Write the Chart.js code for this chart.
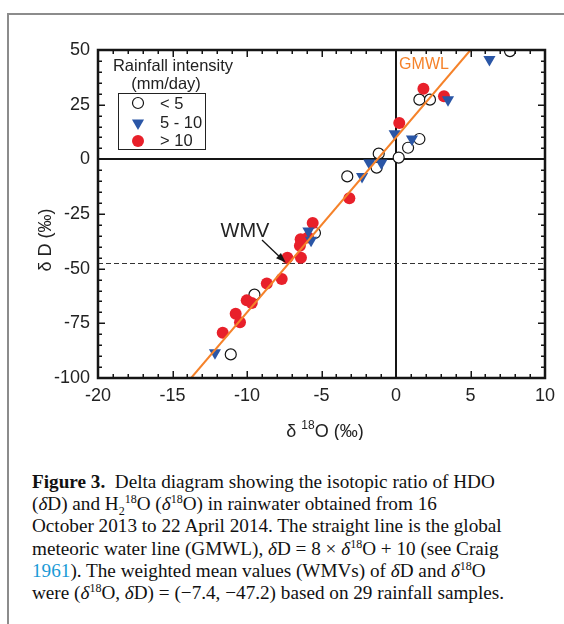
<!DOCTYPE html>
<html>
<head>
<meta charset="utf-8">
<script src="https://cdn.jsdelivr.net/npm/chart.js@4.4.0/dist/chart.umd.min.js"></script>
<style>
  html, body { margin: 0; padding: 0; background: #fff; width: 564px; height: 624px; overflow: hidden; }
  #frame { position: absolute; left: 7px; top: 13px; width: 620px; height: 700px;
           border-left: 2px solid #8c8c8c; border-top: 2px solid #8c8c8c; }
  #plot { position: absolute; left: 0; top: 0; }
  #caption { position: absolute; left: 32px; top: 471px; font-family: "Liberation Serif", "Times New Roman", serif;
             font-size: 19.2px; line-height: 22.2px; color: #111; white-space: nowrap; }
  #caption sup, #caption sub { font-size: 12px; line-height: 0; }
  #caption .ref { color: #1a9ad6; }
</style>
</head>
<body>
<div id="frame"></div>
<canvas id="plot" width="564" height="440"></canvas>
<div id="caption">
  <b>Figure 3.</b>&nbsp; Delta diagram showing the isotopic ratio of HDO<br>
  (<i>δ</i>D) and H<sub>2</sub><sup>18</sup>O (<i>δ</i><sup>18</sup>O) in rainwater obtained from 16<br>
  October 2013 to 22 April 2014. The straight line is the global<br>
  meteoric water line (GMWL), <i>δ</i>D = 8 × <i>δ</i><sup>18</sup>O + 10 (see Craig<br>
  <span class="ref">1961</span>). The weighted mean values (WMVs) of <i>δ</i>D and <i>δ</i><sup>18</sup>O<br>
  were (<i>δ</i><sup>18</sup>O, <i>δ</i>D) = (−7.4, −47.2) based on 29 rainfall samples.
</div>
<script>
// rainfall < 5 mm/day
var lowO18 = [7.65, 1.57, 2.28, 1.57, 0.81, 0.18, -1.16, -1.30, -3.27, -5.44, -9.5, -11.09];
var lowDD  = [49.5, 27.3, 27.3, 9.3, 5.3, 0.8, 2.6, -3.8, -7.8, -33.7, -61.9, -89.2];
// rainfall 5 - 10 mm/day
var midO18 = [6.27, 3.49, -0.09, 1.07, -1.79, -0.98, -2.28, -5.88, -5.7, -12.15];
var midDD  = [45.6, 27.3, 11.7, 9.3, -1.7, -1.7, -7.8, -32.8, -37.0, -88.5];
// rainfall > 10 mm/day
var highO18 = [1.84, 3.22, 0.22, -3.13, -5.59, -5.9, -6.4, -6.45, -6.38, -7.29, -7.67, -8.67, -10.02, -9.68, -10.76, -10.47, -11.63];
var highDD  = [32.3, 28.9, 16.6, -17.8, -29.1, -35.8, -36.5, -39.5, -45.0, -45.0, -54.7, -56.8, -64.5, -65.7, -70.6, -74.5, -79.3];
// global meteoric water line end points (dD = 8 * d18O + 10)
var gmwlO18 = [-13.75, 5];
var gmwlDD  = [-100, 50];
// weighted mean values
var wmvO18 = -7.4;
var wmvDD  = -47.2;

var xTicks = [-20, -15, -10, -5, 0, 5, 10];
var yTicks = [-100, -75, -50, -25, 0, 25, 50];

var RED = '#e8202a', BLUE = '#2a56a6', ORANGE = '#f5822a', INK = '#151515';

function pts(xs, ys) {
    var out = [];
    for (var i = 0; i < xs.length; i++) out.push({ x: xs[i], y: ys[i] });
    return out;
}

function seg(ctx, x1, y1, x2, y2) {
    ctx.beginPath();
    ctx.moveTo(x1, y1);
    ctx.lineTo(x2, y2);
    ctx.stroke();
}

function downTriangle(ctx, x, y, r) {
    var rad = Math.PI, step = 2 * Math.PI / 3;
    ctx.beginPath();
    for (var k = 0; k < 3; k++) {
        var px = x + Math.sin(rad) * r, py = y - Math.cos(rad) * r;
        if (k === 0) ctx.moveTo(px, py); else ctx.lineTo(px, py);
        rad += step;
    }
    ctx.closePath();
    ctx.fill();
}

var decor = {
    id: 'decor',
    beforeDatasetsDraw: function(chart) {
        var ctx = chart.ctx, a = chart.chartArea;
        var xs = chart.scales.x, ys = chart.scales.y;
        ctx.save();
        ctx.strokeStyle = INK;
        ctx.lineWidth = 2;
        var x0 = Math.round(xs.getPixelForValue(0)), y0 = Math.round(ys.getPixelForValue(0));
        seg(ctx, x0, a.top, x0, a.bottom);
        seg(ctx, a.left, y0, a.right, y0);

        // weighted mean dD level
        var yw = Math.round(ys.getPixelForValue(wmvDD)) + 0.5;
        ctx.lineWidth = 1;
        ctx.strokeStyle = '#333';
        ctx.setLineDash([5, 3]);
        seg(ctx, a.left, yw, a.right, yw);
        ctx.restore();
    },
    afterDatasetsDraw: function(chart) {
        var ctx = chart.ctx, a = chart.chartArea;
        var xs = chart.scales.x, ys = chart.scales.y;
        ctx.save();
        ctx.strokeStyle = INK;

        // inward ticks on all four sides
        ctx.lineWidth = 1.5;
        var v, p, len;
        for (v = -20; v <= 10; v++) {
            p = Math.round(xs.getPixelForValue(v)) + 0.25;
            len = (v % 5 === 0) ? 7 : 4;
            seg(ctx, p, a.bottom, p, a.bottom - len);
            seg(ctx, p, a.top, p, a.top + len);
        }
        for (v = -100; v <= 50; v += 5) {
            p = Math.round(ys.getPixelForValue(v)) + 0.25;
            len = (v % 25 === 0) ? 7 : 4;
            seg(ctx, a.left, p, a.left + len, p);
            seg(ctx, a.right, p, a.right - len, p);
        }

        // plot frame
        ctx.lineWidth = 2.5;
        ctx.strokeRect(a.left, a.top, a.right - a.left, a.bottom - a.top);

        // WMV label with arrow to the mean point
        var tx = xs.getPixelForValue(wmvO18), ty = ys.getPixelForValue(wmvDD);
        ctx.fillStyle = '#222';
        ctx.font = '20px "Liberation Sans", Arial, sans-serif';
        ctx.textAlign = 'center';
        ctx.textBaseline = 'middle';
        ctx.fillText('WMV', 245, 231);
        var sx = 262, sy = 240;
        var ang = Math.atan2(ty - sy, tx - sx);
        ctx.lineWidth = 1.3;
        seg(ctx, sx, sy, tx - Math.cos(ang) * 6, ty - Math.sin(ang) * 6);
        ctx.fillStyle = INK;
        ctx.beginPath();
        ctx.moveTo(tx, ty);
        ctx.lineTo(tx - Math.cos(ang) * 10 + Math.sin(ang) * 3.5, ty - Math.sin(ang) * 10 - Math.cos(ang) * 3.5);
        ctx.lineTo(tx - Math.cos(ang) * 10 - Math.sin(ang) * 3.5, ty - Math.sin(ang) * 10 + Math.cos(ang) * 3.5);
        ctx.closePath();
        ctx.fill();

        // GMWL label
        ctx.fillStyle = ORANGE;
        ctx.font = '16px "Liberation Sans", Arial, sans-serif';
        ctx.fillText('GMWL', 424, 65);

        // legend
        ctx.fillStyle = '#222';
        ctx.font = '16.5px "Liberation Sans", Arial, sans-serif';
        ctx.fillText('Rainfall intensity', 173, 66);
        ctx.fillText('(mm/day)', 166, 84);
        ctx.lineWidth = 1;
        ctx.strokeStyle = '#222';
        ctx.strokeRect(118.5, 93.5, 87, 56);
        ctx.textAlign = 'left';
        ctx.fillText('< 5', 160, 104);
        ctx.fillText('5 - 10', 160, 123);
        ctx.fillText('> 10', 160, 141);
        ctx.beginPath();
        ctx.arc(138, 103, 5.5, 0, 2 * Math.PI);
        ctx.fillStyle = '#fff';
        ctx.fill();
        ctx.lineWidth = 1.2;
        ctx.strokeStyle = INK;
        ctx.stroke();
        ctx.fillStyle = BLUE;
        downTriangle(ctx, 138, 123, 7);
        ctx.fillStyle = RED;
        ctx.beginPath();
        ctx.arc(138, 141, 6, 0, 2 * Math.PI);
        ctx.fill();

        // axis titles
        ctx.fillStyle = '#222';
        ctx.font = '18px "Liberation Sans", Arial, sans-serif';
        ctx.textAlign = 'left';
        ctx.textBaseline = 'alphabetic';
        var t1 = 'δ ', t2 = '18', t3 = 'O (‰)';
        var w1 = ctx.measureText(t1).width, w3 = ctx.measureText(t3).width;
        ctx.font = '12px "Liberation Sans", Arial, sans-serif';
        var w2 = ctx.measureText(t2).width;
        var left = 325 - (w1 + w2 + w3) / 2, base = 437;
        ctx.font = '18px "Liberation Sans", Arial, sans-serif';
        ctx.fillText(t1, left, base);
        ctx.font = '12px "Liberation Sans", Arial, sans-serif';
        ctx.fillText(t2, left + w1, base - 8);
        ctx.font = '18px "Liberation Sans", Arial, sans-serif';
        ctx.fillText(t3, left + w1 + w2, base);

        ctx.translate(46, 240);
        ctx.rotate(-Math.PI / 2);
        ctx.textAlign = 'center';
        ctx.textBaseline = 'middle';
        ctx.fillText('δ D (‰)', 0, 0);
        ctx.restore();
    }
};

Chart.defaults.font.family = '"Liberation Sans", Arial, sans-serif';
Chart.defaults.color = '#222';

new Chart(document.getElementById('plot'), {
    type: 'scatter',
    data: {
        datasets: [{
            label: 'GMWL',
            data: pts(gmwlO18, gmwlDD),
            showLine: true,
            borderColor: ORANGE,
            borderWidth: 2,
            pointRadius: 0
        }, {
            label: '5 - 10',
            data: pts(midO18, midDD),
            pointStyle: 'triangle',
            rotation: 180,
            pointRadius: 7,
            backgroundColor: BLUE,
            borderColor: BLUE,
            borderWidth: 0
        }, {
            label: '> 10',
            data: pts(highO18, highDD),
            pointRadius: 6,
            backgroundColor: RED,
            borderColor: RED,
            borderWidth: 0
        }, {
            label: '< 5',
            data: pts(lowO18, lowDD),
            pointRadius: 5.5,
            backgroundColor: '#fff',
            borderColor: INK,
            borderWidth: 1.2
        }]
    },
    options: {
        responsive: false,
        animation: false,
        devicePixelRatio: 1,
        layout: { padding: { left: 0, right: 19, top: 50, bottom: 0 } },
        plugins: {
            legend: { display: false },
            tooltip: { enabled: false }
        },
        scales: {
            x: {
                type: 'linear',
                min: -20,
                max: 10,
                afterFit: function(scale) { scale.height = 62; },
                afterBuildTicks: function(scale) {
                    scale.ticks = xTicks.map(function(t) { return { value: t }; });
                },
                grid: { display: false, drawTicks: false },
                border: { display: false },
                ticks: { autoSkip: false, maxRotation: 0, padding: 7, font: { size: 18 }, color: '#222' }
            },
            y: {
                type: 'linear',
                min: -100,
                max: 50,
                afterFit: function(scale) { scale.width = 98; },
                afterBuildTicks: function(scale) {
                    scale.ticks = yTicks.map(function(t) { return { value: t }; });
                },
                grid: { display: false, drawTicks: false },
                border: { display: false },
                ticks: { autoSkip: false, padding: 8, font: { size: 18 }, color: '#222' }
            }
        }
    },
    plugins: [decor]
});
</script>
</body>
</html>
